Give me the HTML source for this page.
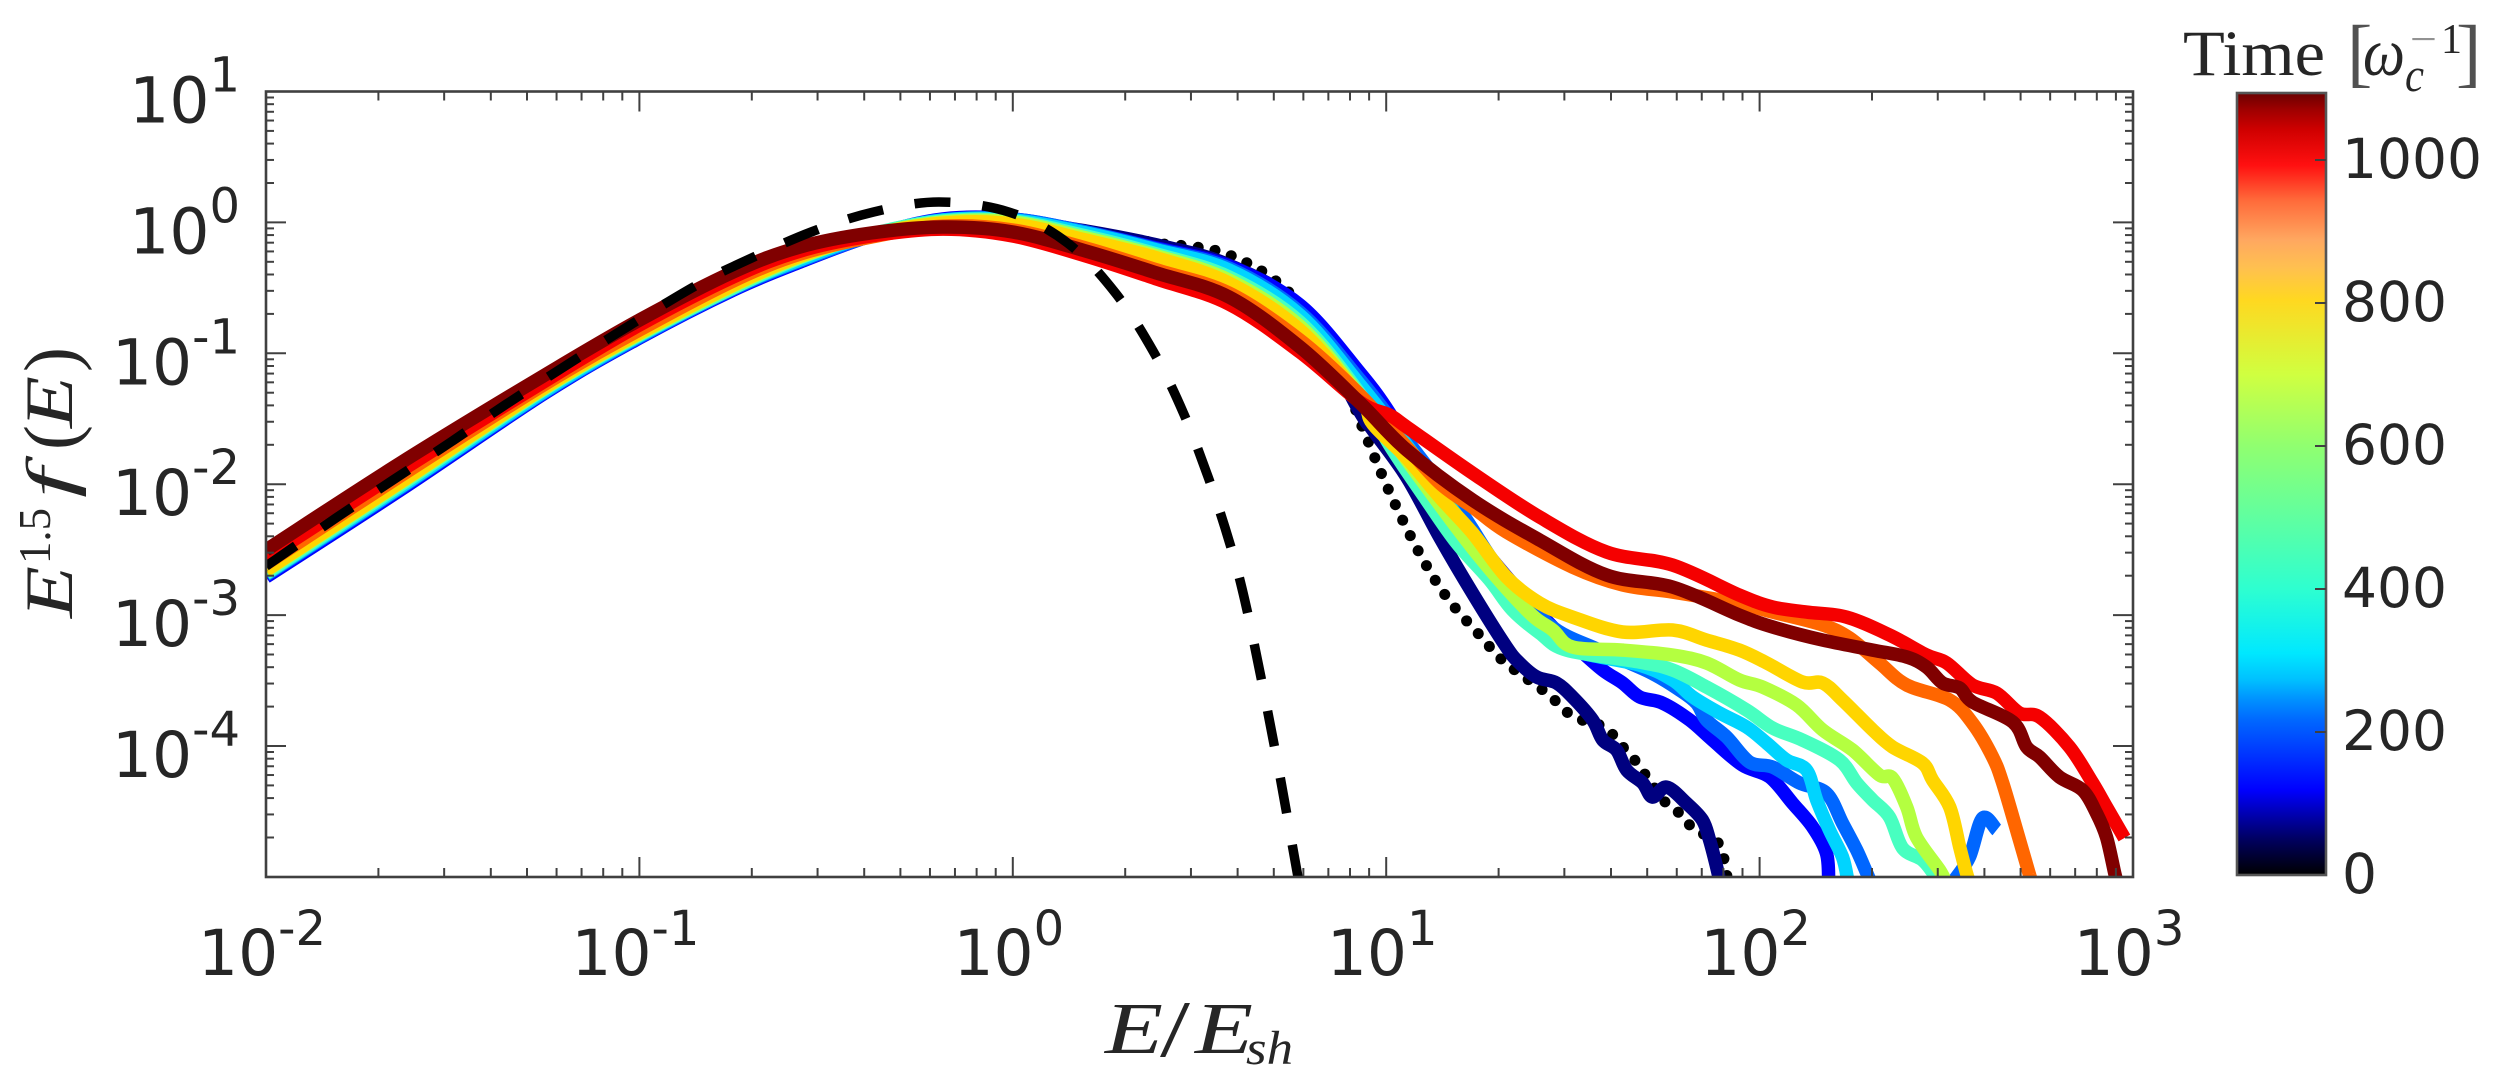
<!DOCTYPE html>
<html lang="en">
<head>
<meta charset="utf-8">
<title>Energy spectrum over time</title>
<style>
  html, body { margin: 0; padding: 0; background: #ffffff; }
  svg { display: block; }
  .tick-label { font-family: "DejaVu Sans", "Liberation Sans", sans-serif; fill: #262626; font-size: 63px; }
  .cbar-label { font-family: "DejaVu Sans", "Liberation Sans", sans-serif; fill: #262626; font-size: 55px; }
  .math { font-family: "Liberation Serif", serif; font-style: italic; fill: #262626; }
  .roman { font-family: "Liberation Serif", serif; fill: #262626; }
</style>
</head>
<body>
<svg id="chart" xmlns="http://www.w3.org/2000/svg" width="2517" height="1082" viewBox="0 0 2517 1082">
  <defs>
    <clipPath id="plot-clip"><rect x="266" y="91.5" width="1867" height="785.5"></rect></clipPath>
    <linearGradient id="jet-gradient" x1="0" y1="1" x2="0" y2="0"></linearGradient>
  </defs>
  <rect x="0" y="0" width="2517" height="1082" fill="#ffffff"></rect>
  <g id="series-layer" clip-path="url(#plot-clip)"></g>
  <g id="tick-layer"></g>
  <rect x="266" y="91.5" width="1867" height="785.5" fill="none" stroke="#404040" stroke-width="2.6"></rect>
  <g id="label-layer"></g>

  <g>
    <text class="math" x="1105" y="1053" font-size="73" textLength="58" lengthAdjust="spacingAndGlyphs">E</text>
    <text class="roman" x="1160" y="1056" font-size="80" textLength="30" lengthAdjust="spacingAndGlyphs">/</text>
    <text class="math" x="1195" y="1053" font-size="73" textLength="58" lengthAdjust="spacingAndGlyphs">E</text>
    <text class="math" x="1246" y="1064" font-size="48" textLength="47" lengthAdjust="spacingAndGlyphs">sh</text>
  </g>

  <g>
    <text class="math" transform="translate(72,618) rotate(-90)" font-size="68" textLength="52" lengthAdjust="spacingAndGlyphs">E</text>
    <text class="roman" transform="translate(50,564) rotate(-90)" font-size="45" textLength="56" lengthAdjust="spacingAndGlyphs">1.5</text>
    <text class="math" transform="translate(72,498) rotate(-90)" font-size="66" textLength="30" lengthAdjust="spacingAndGlyphs">f</text>
    <text class="roman" transform="translate(76,450) rotate(-90)" font-size="75">(</text>
    <text class="math" transform="translate(72,428) rotate(-90)" font-size="68" textLength="52" lengthAdjust="spacingAndGlyphs">E</text>
    <text class="roman" transform="translate(76,372) rotate(-90)" font-size="75">)</text>
  </g>

  <g id="colorbar">
    <rect x="2237" y="93" width="89" height="782" fill="url(#jet-gradient)" stroke="#555555" stroke-width="2.6"></rect>
  </g>

  <g>
    <text class="roman" x="2183" y="75" font-size="65" textLength="142" lengthAdjust="spacingAndGlyphs">Time</text>
    <text class="roman" x="2347" y="78" font-size="76" fill-opacity="0.8">[</text>
    <text class="math" x="2363" y="75" font-size="68" textLength="42" lengthAdjust="spacingAndGlyphs">ω</text>
    <text class="math" x="2405" y="91" font-size="48" textLength="19" lengthAdjust="spacingAndGlyphs">c</text>
    <text class="roman" x="2410" y="53" font-size="42" textLength="27" lengthAdjust="spacingAndGlyphs" fill-opacity="0.5">−</text>
    <text class="roman" x="2441" y="53" font-size="42">1</text>
    <text class="roman" x="2456" y="78" font-size="76" fill-opacity="0.8">]</text>
  </g>
</svg>

<script>
// All energies and fluxes below are log10 values.
const bodyLogEnergy = [-2, -1.636, -1.253, -1, -0.749, -0.57, -0.38, -0.187, 0, 0.196, 0.386, 0.579, 0.769, 0.93];

const navyBodyFlux = [-2.671, -1.983, -1.265, -0.853, -0.494, -0.264, -0.096, 0.011, 0.011, -0.066, -0.173, -0.326, -0.662, -1.449];
const navyTailEnergy = [0.964, 1.055, 1.143, 1.231, 1.322, 1.357, 1.403, 1.456, 1.499, 1.553, 1.58, 1.617, 1.644, 1.687, 1.713, 1.751, 1.804, 1.847, 1.866, 1.887, 1.893];
const navyTailFlux = [-1.586, -1.945, -2.404, -2.832, -3.244, -3.366, -3.473, -3.519, -3.626, -3.802, -3.955, -4.031, -4.184, -4.283, -4.39, -4.314, -4.436, -4.566, -4.719, -4.948, -5.039];

const blueBodyFlux = [-2.709, -2.037, -1.304, -0.883, -0.517, -0.303, -0.104, 0.026, 0.026, -0.073, -0.196, -0.333, -0.631, -1.151];
const blueTailEnergy = [1.009, 1.089, 1.285, 1.446, 1.518, 1.58, 1.633, 1.679, 1.74, 1.813, 1.874, 1.954, 2.027, 2.088, 2.142, 2.179, 2.185];
const blueTailFlux = [-1.456, -1.854, -2.579, -3.091, -3.267, -3.42, -3.519, -3.626, -3.672, -3.802, -3.955, -4.146, -4.237, -4.436, -4.619, -4.818, -5.024];

const azureBodyFlux = [-2.694, -2.022, -1.296, -0.876, -0.509, -0.295, -0.104, 0.018, 0.026, -0.073, -0.203, -0.349, -0.685, -1.204];
const azureTailEnergy = [1.055, 1.197, 1.304, 1.438, 1.571, 1.705, 1.786, 1.831, 1.858, 1.912, 1.973, 2.035, 2.107, 2.179, 2.222, 2.26, 2.287, 2.295, null, 2.522, 2.562, 2.597, 2.635];
const azureTailFlux = [-1.663, -2.197, -2.656, -3.076, -3.267, -3.435, -3.573, -3.672, -3.802, -3.932, -4.123, -4.161, -4.283, -4.36, -4.589, -4.795, -4.971, -5.024, null, -5.024, -4.848, -4.551, -4.642];

const cyanBodyFlux = [-2.686, -2.014, -1.288, -0.868, -0.501, -0.287, -0.096, 0.018, 0.018, -0.081, -0.211, -0.364, -0.708, -1.242];
const cyanTailEnergy = [1.055, 1.197, 1.304, 1.411, 1.499, 1.679, 1.767, 1.821, 1.893, 1.965, 2.019, 2.072, 2.126, 2.153, 2.187, 2.222, 2.236];
const cyanTailFlux = [-1.701, -2.274, -2.732, -3.076, -3.267, -3.382, -3.496, -3.626, -3.748, -3.855, -3.978, -4.107, -4.184, -4.413, -4.642, -4.848, -5.024];

const springBodyFlux = [-2.679, -1.999, -1.273, -0.86, -0.501, -0.272, -0.089, 0.011, 0.011, -0.104, -0.242, -0.417, -0.761, -1.311];
const springTailEnergy = [1.009, 1.108, 1.189, 1.277, 1.338, 1.411, 1.483, 1.679, 1.767, 1.858, 1.965, 2.035, 2.115, 2.214, 2.26, 2.303, 2.348, 2.383, 2.436, 2.469, 2.482];
const springTailFlux = [-1.701, -2.121, -2.45, -2.732, -2.961, -3.137, -3.267, -3.359, -3.42, -3.55, -3.725, -3.863, -3.955, -4.107, -4.283, -4.413, -4.543, -4.78, -4.871, -4.986, -5.039];

const limeBodyFlux = [-2.663, -1.983, -1.265, -0.853, -0.486, -0.264, -0.096, 0.003, 0.003, -0.119, -0.257, -0.44, -0.792, -1.326];
const limeTailEnergy = [1.055, 1.231, 1.376, 1.446, 1.499, 1.633, 1.767, 1.858, 1.946, 2.008, 2.099, 2.169, 2.249, 2.321, 2.356, 2.394, 2.42, 2.482, 2.498];
const limeTailFlux = [-1.815, -2.488, -2.961, -3.114, -3.244, -3.267, -3.305, -3.366, -3.496, -3.55, -3.687, -3.878, -4.031, -4.222, -4.245, -4.466, -4.696, -4.948, -5.039];

const yellowBodyFlux = [-2.656, -1.976, -1.258, -0.845, -0.478, -0.257, -0.096, -0.005, -0.012, -0.135, -0.272, -0.463, -0.822, -1.342];
const yellowTailEnergy = [0.964, 1.055, 1.143, 1.231, 1.322, 1.411, 1.499, 1.633, 1.767, 1.858, 1.946, 2.019, 2.115, 2.169, 2.222, 2.303, 2.356, 2.436, 2.463, 2.509, 2.536, 2.554, 2.562];
const yellowTailFlux = [-1.54, -1.8, -2.098, -2.373, -2.709, -2.908, -3.015, -3.129, -3.114, -3.191, -3.267, -3.366, -3.511, -3.519, -3.649, -3.878, -4.008, -4.13, -4.26, -4.466, -4.772, -4.971, -5.039];

const orangeBodyFlux = [-2.61, -1.93, -1.235, -0.822, -0.448, -0.242, -0.112, -0.028, -0.058, -0.196, -0.364, -0.54, -0.899, -1.319];
const orangeTailEnergy = [1.055, 1.143, 1.231, 1.322, 1.499, 1.633, 1.767, 1.938, 2.035, 2.169, 2.241, 2.321, 2.394, 2.509, 2.57, 2.624, 2.651, 2.696, 2.723, 2.728];
const orangeTailFlux = [-1.716, -1.991, -2.174, -2.365, -2.633, -2.77, -2.824, -2.908, -2.977, -3.076, -3.175, -3.366, -3.534, -3.649, -3.825, -4.084, -4.283, -4.719, -4.986, -5.024];

const redBodyFlux = [-2.564, -1.892, -1.212, -0.784, -0.417, -0.219, -0.104, -0.051, -0.104, -0.257, -0.433, -0.624, -0.99, -1.372];
const redTailEnergy = [1.009, 1.055, 1.231, 1.411, 1.59, 1.767, 1.946, 2.035, 2.126, 2.233, 2.348, 2.447, 2.501, 2.57, 2.635, 2.696, 2.75, 2.83, 2.892, 2.929, 2.977];
const redTailFlux = [-1.472, -1.563, -1.915, -2.251, -2.518, -2.618, -2.847, -2.938, -2.977, -3.015, -3.152, -3.305, -3.366, -3.534, -3.596, -3.748, -3.779, -4.008, -4.283, -4.466, -4.703];

const darkRedBodyFlux = [-2.503, -1.831, -1.166, -0.746, -0.379, -0.188, -0.081, -0.035, -0.073, -0.219, -0.387, -0.57, -0.952, -1.38];
const darkRedTailEnergy = [1.055, 1.231, 1.411, 1.59, 1.767, 1.946, 2.035, 2.169, 2.303, 2.394, 2.447, 2.49, 2.536, 2.57, 2.678, 2.715, 2.75, 2.803, 2.865, 2.902, 2.929, 2.951, 2.956];
const darkRedTailFlux = [-1.739, -2.121, -2.427, -2.694, -2.786, -3, -3.091, -3.191, -3.267, -3.32, -3.397, -3.519, -3.557, -3.664, -3.817, -4.008, -4.084, -4.237, -4.337, -4.512, -4.696, -4.971, -5.024];

const dottedEnergy = [-2, -1.636, -1.253, -1, -0.749, -0.57, -0.38, -0.187, 0, 0.196, 0.386, 0.441, 0.538, 0.623, 0.701, 0.769, 0.864, 0.937, 1.009, 1.089, 1.164, 1.255, 1.317, 1.43, 1.499, 1.585, 1.617, 1.646, 1.679, 1.7, 1.754, 1.794, 1.821, 1.887, 1.904, 1.914];
const dottedFlux = [-2.671, -1.983, -1.265, -0.853, -0.494, -0.264, -0.096, 0.011, 0.003, -0.066, -0.158, -0.173, -0.211, -0.303, -0.44, -0.631, -1.051, -1.571, -2.06, -2.526, -2.87, -3.168, -3.359, -3.596, -3.771, -3.855, -3.955, -4.046, -4.153, -4.245, -4.451, -4.528, -4.627, -4.734, -4.856, -5.024];

const dashedEnergy = [-2, -1.976, -1.813, -1.66, -1.505, -1.36, -1.106, -0.856, -0.723, -0.54, -0.374, -0.198, -0.01, 0.147, 0.275, 0.377, 0.457, 0.524, 0.581, 0.621, 0.666, 0.715, 0.765];
const dashedFlux = [-2.625, -2.579, -2.259, -1.968, -1.678, -1.395, -0.929, -0.494, -0.303, -0.073, 0.079, 0.156, 0.079, -0.158, -0.54, -0.99, -1.456, -1.953, -2.45, -2.884, -3.496, -4.222, -5.024];

const xTickExponents = [-2, -1, 0, 1, 2, 3];
const yTickExponents = [1, 0, -1, -2, -3, -4];
const colorbarTicks = [0, 200, 400, 600, 800, 1000];
const colorbarStopTimes = [0, 50, 119, 217, 245, 273, 310, 400, 500, 600, 700, 804, 850, 888, 944, 993, 1042, 1070, 1094];
const colorbarStopColors = ['#000000', '#000060', '#0000ff', '#0068ff', '#0090ff', '#00c0ff', '#00e8ff', '#2effd0', '#60ffa0', '#90ff70', '#d0ff40', '#ffd820', '#ffc050', '#ffa860', '#ff6a3a', '#ff1010', '#d00000', '#a00000', '#6a0000'];

const SVGNS = 'http://www.w3.org/2000/svg';
const xOf = v => 266 + (v + 2) * 373.4;
const yOf = v => 91.5 + (1 - v) * 130.9;
const cbarY = t => 875 - t * 0.715;

function make(tag, parent) {
  const node = document.createElementNS(SVGNS, tag);
  parent.appendChild(node);
  return node;
}

// Catmull-Rom smoothed path through mapped points; null values break the line.
function smoothPath(energy, flux) {
  let d = '';
  let run = [];
  const flush = () => {
    for (let i = 0; i < run.length; i++) {
      const p = run[i];
      if (i === 0) { d += 'M' + p[0].toFixed(1) + ' ' + p[1].toFixed(1); continue; }
      const p0 = run[Math.max(i - 2, 0)], p1 = run[i - 1], p3 = run[Math.min(i + 1, run.length - 1)];
      const c1x = p1[0] + (p[0] - p0[0]) / 6, c1y = p1[1] + (p[1] - p0[1]) / 6;
      const c2x = p[0] - (p3[0] - p1[0]) / 6, c2y = p[1] - (p3[1] - p1[1]) / 6;
      d += 'C' + c1x.toFixed(1) + ' ' + c1y.toFixed(1) + ' ' + c2x.toFixed(1) + ' ' + c2y.toFixed(1) + ' ' + p[0].toFixed(1) + ' ' + p[1].toFixed(1);
    }
    run = [];
  };
  energy.forEach((e, i) => {
    if (e === null || flux[i] === null) { flush(); return; }
    run.push([xOf(e), yOf(flux[i])]);
  });
  flush();
  return d;
}

const seriesLayer = document.getElementById('series-layer');

const dotted = make('path', seriesLayer);


dotted.setAttribute('d', smoothPath(dottedEnergy, dottedFlux));
dotted.setAttribute('fill', 'none');
dotted.setAttribute('stroke', '#000000');
dotted.setAttribute('stroke-width', '11');
dotted.setAttribute('stroke-linecap', 'round');
dotted.setAttribute('stroke-dasharray', '0.1 17');

const curves = [
  ['navy', navyBodyFlux, navyTailEnergy, navyTailFlux, '#000080'],
  ['blue', blueBodyFlux, blueTailEnergy, blueTailFlux, '#0000ff'],
  ['azure', azureBodyFlux, azureTailEnergy, azureTailFlux, '#0066ff'],
  ['cyan', cyanBodyFlux, cyanTailEnergy, cyanTailFlux, '#00d4ff'],
  ['spring', springBodyFlux, springTailEnergy, springTailFlux, '#48ffc0'],
  ['lime', limeBodyFlux, limeTailEnergy, limeTailFlux, '#b4ff40'],
  ['yellow', yellowBodyFlux, yellowTailEnergy, yellowTailFlux, '#ffd500'],
  ['orange', orangeBodyFlux, orangeTailEnergy, orangeTailFlux, '#ff6600'],
  ['red', redBodyFlux, redTailEnergy, redTailFlux, '#f50000'],
  ['dark-red', darkRedBodyFlux, darkRedTailEnergy, darkRedTailFlux, '#800000']
];

curves.forEach(c => {
  const line = make('path', seriesLayer);
  
  
  line.setAttribute('d', smoothPath(bodyLogEnergy.concat(c[2]), c[1].concat(c[3])));
  line.setAttribute('fill', 'none');
  line.setAttribute('stroke', c[4]);
  line.setAttribute('stroke-width', '13.5');
  line.setAttribute('stroke-linejoin', 'round');
});

const dashed = make('path', seriesLayer);


dashed.setAttribute('d', smoothPath(dashedEnergy, dashedFlux));
dashed.setAttribute('fill', 'none');
dashed.setAttribute('stroke', '#000000');
dashed.setAttribute('stroke-width', '9.5');
dashed.setAttribute('stroke-dasharray', '36 32');

// Ticks
const tickLayer = document.getElementById('tick-layer');
function tick(x1, y1, x2, y2, name) {
  const t = make('line', tickLayer);
  
  
  t.setAttribute('x1', x1);
  t.setAttribute('y1', y1);
  t.setAttribute('x2', x2);
  t.setAttribute('y2', y2);
  t.setAttribute('stroke', '#404040');
  t.setAttribute('stroke-width', '2');
}
for (let dec = -2; dec <= 3; dec++) {
  const px = xOf(dec);
  if (dec > -2 && dec < 3) {
    tick(px, 877, px, 857, 'x-major-tick-bottom');
    tick(px, 91.5, px, 111.5, 'x-major-tick-top');
  }
  if (dec < 3) {
    for (let k = 2; k <= 9; k++) {
      const mx = xOf(dec + Math.log10(k));
      tick(mx, 877, mx, 868, 'x-minor-tick-bottom');
      tick(mx, 91.5, mx, 100.5, 'x-minor-tick-top');
    }
  }
}
for (let dec = -5; dec <= 1; dec++) {
  const py = yOf(dec);
  if (dec > -5 && dec < 1) {
    tick(266, py, 286, py, 'y-major-tick-left');
    tick(2133, py, 2113, py, 'y-major-tick-right');
  }
  if (dec < 1) {
    for (let k = 2; k <= 9; k++) {
      const my = yOf(dec + Math.log10(k));
      tick(266, my, 274, my, 'y-minor-tick-left');
      tick(2133, my, 2125, my, 'y-minor-tick-right');
    }
  }
}

// Tick labels
const labelLayer = document.getElementById('label-layer');
function powerLabel(x, y, exponent, anchor, raise, name) {
  const t = make('text', labelLayer);
  
  
  t.setAttribute('class', 'tick-label');
  t.setAttribute('x', x);
  t.setAttribute('y', y);
  t.setAttribute('text-anchor', anchor);
  const base = make('tspan', t);
  base.textContent = '10';
  const sup = make('tspan', t);
  sup.setAttribute('font-size', '48');
  sup.setAttribute('dy', -raise);
  sup.textContent = String(exponent);
}
xTickExponents.forEach(e => {
  powerLabel(xOf(e) - 4, 975, e, 'middle', 30, 'x-tick-label');
});
yTickExponents.forEach(e => {
  powerLabel(240, yOf(e) + 31, e, 'end', 31, 'y-tick-label');
});

// Colorbar
const gradient = document.getElementById('jet-gradient');
const cbarMax = 1094;
colorbarStopTimes.forEach((t, i) => {
  const stop = make('stop', gradient);
  stop.setAttribute('offset', (t / cbarMax).toFixed(4));
  stop.setAttribute('stop-color', colorbarStopColors[i]);
});
const colorbar = document.getElementById('colorbar');
colorbarTicks.forEach(t => {
  const py = cbarY(t);
  if (t > 0) {
    const mark = make('line', colorbar);
    
    
    mark.setAttribute('x1', 2315);
    mark.setAttribute('y1', py);
    mark.setAttribute('x2', 2326);
    mark.setAttribute('y2', py);
    mark.setAttribute('stroke', '#404040');
    mark.setAttribute('stroke-width', '2');
  }
  const label = make('text', colorbar);
  
  
  label.setAttribute('class', 'cbar-label');
  label.setAttribute('x', 2342);
  label.setAttribute('y', py + 18);
  label.textContent = String(t);
});
</script>
</body>
</html>
